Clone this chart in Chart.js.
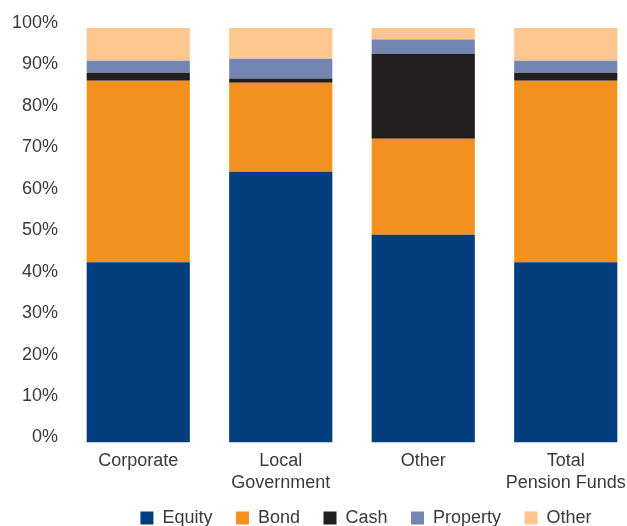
<!DOCTYPE html>
<html>
<head>
<meta charset="utf-8">
<script src="https://cdn.jsdelivr.net/npm/chart.js@4/dist/chart.umd.min.js"></script>
<style>
  html, body { margin: 0; padding: 0; background: #fff; overflow: hidden; width: 627px; height: 526px; }
  #wrap { position: relative; width: 726px; height: 545px; }
</style>
</head>
<body>
<div id="wrap"><canvas id="chart"></canvas></div>
<script>
const categories = ["Corporate", ["Local", "Government"], "Other", ["Total", "Pension Funds"]];
const equity = [43.5, 65.3, 50.1, 43.5];
const bond = [43.8, 21.5, 23.2, 43.8];
const cash = [1.9, 1.0, 20.5, 1.9];
const property = [2.9, 4.8, 3.4, 2.9];
const other = [7.9, 7.4, 2.8, 7.9];

const textColor = "#3a3a3a";
const font = { family: "'Liberation Sans', Arial, sans-serif", size: 18, lineHeight: 1.22 };

const makeSet = (label, data, color) => ({
  label,
  data,
  backgroundColor: color,
  borderWidth: 0,
  categoryPercentage: 1,
  barPercentage: 0.724,
});

// pull the legend up a little closer to the axis labels
const legendShift = {
  id: "legendShift",
  afterLayout: (chart) => {
    chart.legend.top -= 8;
    chart.legend.bottom -= 8;
  },
};

new Chart(document.getElementById("chart"), {
  type: "bar",
  data: {
    labels: categories,
    datasets: [
      makeSet("Equity", equity, "#033d7b"),
      makeSet("Bond", bond, "#f39120"),
      makeSet("Cash", cash, "#231f20"),
      makeSet("Property", property, "#7386b3"),
      makeSet("Other", other, "#fcc68f"),
    ],
  },
  plugins: [legendShift],
  options: {
    responsive: true,
    maintainAspectRatio: false,
    animation: false,
    layout: { padding: { top: 28, bottom: 0, left: 6, right: 0 } },
    plugins: {
      tooltip: { enabled: false },
      legend: {
        position: "bottom",
        labels: {
          color: textColor,
          font,
          boxWidth: 13,
          boxHeight: 13,
          padding: 23.5,
        },
      },
    },
    scales: {
      x: {
        stacked: true,
        grid: { display: false, drawTicks: false },
        border: { display: false },
        ticks: { color: textColor, font, padding: 8, maxRotation: 0 },
        afterFit: (scale) => { scale.height = 51; },
      },
      y: {
        stacked: true,
        min: 0,
        max: 100,
        grid: { display: false, drawTicks: false },
        border: { display: false },
        ticks: {
          stepSize: 10,
          color: textColor,
          font,
          padding: 9,
          labelOffset: -5,
          callback: (v) => v + "%",
        },
        afterFit: (scale) => { scale.width = 61; },
      },
      y2: {
        position: "right",
        display: true,
        grid: { display: false, drawTicks: false },
        border: { display: false },
        ticks: { display: false },
        afterFit: (scale) => { scale.width = 89; },
      },
    },
  },
});
</script>
</body>
</html>
